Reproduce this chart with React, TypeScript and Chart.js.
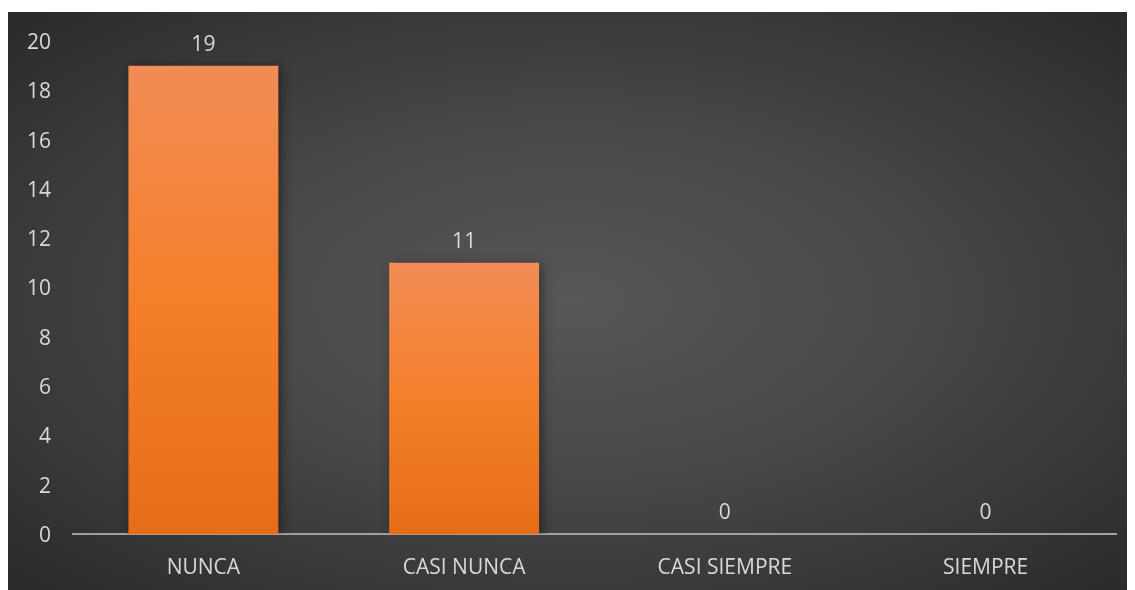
import React, { useEffect, useRef } from "react";
import { Chart, registerables } from "chart.js";

Chart.register(...registerables);

const categories = ["NUNCA", "CASI NUNCA", "CASI SIEMPRE", "SIEMPRE"];
const values = [19, 11, 0, 0];
const yTicks = [0, 2, 4, 6, 8, 10, 12, 14, 16, 18, 20];

const FONT = "'Open Sans', 'Noto Sans', sans-serif";
const FS = 21;

const valueLabels = {
  id: "valueLabels",
  afterDatasetsDraw(chart: any) {
    const ctx = chart.ctx;
    const meta = chart.getDatasetMeta(0);
    ctx.save();
    ctx.fillStyle = "#d9d9d9";
    ctx.font = `${FS}px ${FONT}`;
    ctx.textAlign = "center";
    ctx.textBaseline = "middle";
    meta.data.forEach((el: any, i: number) => {
      ctx.fillText(String(values[i]), el.x, el.y - 21);
    });
    ctx.restore();
  },
};

const barShadow = {
  id: "barShadow",
  beforeDatasetsDraw(chart: any) {
    const ctx = chart.ctx;
    ctx.save();
    ctx.shadowColor = "rgba(0,0,0,0.45)";
    ctx.shadowBlur = 10;
    ctx.shadowOffsetX = 3;
    ctx.shadowOffsetY = 2;
  },
  afterDatasetsDraw(chart: any) {
    chart.ctx.restore();
  },
};

export default function App() {
  const ref = useRef<HTMLCanvasElement>(null);
  useEffect(() => {
    if (!ref.current) return;
    const chart = new Chart(ref.current, {
      type: "bar",
      data: {
        labels: categories,
        datasets: [
          {
            data: values,
            backgroundColor: (c: any) => {
              const ch = c.chart;
              const y = ch.scales && ch.scales.y;
              if (!ch.chartArea || !y || typeof c.raw !== "number" || c.raw === 0) return "#F57F2A";
              const top = y.getPixelForValue(c.raw);
              const bottom = y.getPixelForValue(0);
              if (!isFinite(top) || !isFinite(bottom) || top === bottom) return "#F57F2A";
              const g = ch.ctx.createLinearGradient(0, top, 0, bottom);
              g.addColorStop(0, "#F28C55");
              g.addColorStop(0.5, "#F57F2A");
              g.addColorStop(1, "#E66C18");
              return g;
            },
            borderWidth: 0,
            categoryPercentage: 0.575,
            barPercentage: 1,
          },
        ],
      },
      options: {
        animation: false,
        responsive: false,
        maintainAspectRatio: false,
        layout: { padding: { top: 0, right: 19, left: 0, bottom: 0 } },
        plugins: { legend: { display: false }, tooltip: { enabled: false } },
        scales: {
          x: {
            grid: { display: false, drawTicks: false },
            border: { display: true, color: "#a0a0a0", width: 2 },
            ticks: { color: "#d9d9d9", font: { family: FONT, size: FS }, padding: 21 },
            afterFit: (s: any) => {
              s.height = 56;
              s.paddingLeft = 0;
              s.paddingRight = 0;
            },
          },
          y: {
            min: 0,
            max: 20,
            afterBuildTicks: (s: any) => {
              s.ticks = yTicks.map((v) => ({ value: v }));
            },
            grid: { display: false, drawTicks: false },
            border: { display: false },
            ticks: { color: "#d9d9d9", font: { family: FONT, size: FS }, padding: 22, labelOffset: 2 },
            afterFit: (s: any) => {
              s.width = 65;
              s.paddingTop = 29;
              s.paddingBottom = 0;
            },
          },
        },
      },
      plugins: [barShadow, valueLabels],
    });
    return () => chart.destroy();
  }, []);
  return (
    <div
      style={{
        marginTop: 4,
        width: 1127,
        height: 578,
        background: "radial-gradient(ellipse at center, #575757 0%, #474747 45%, #2a2a2a 100%)",
      }}
    >
      <canvas ref={ref} width={1127} height={578} style={{ display: "block" }} />
    </div>
  );
}
